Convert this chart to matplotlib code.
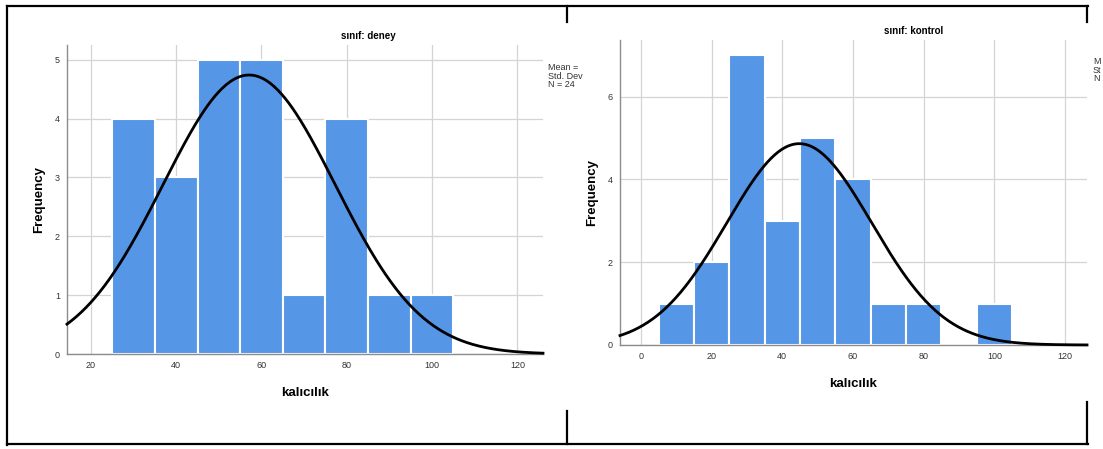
import numpy as np
import matplotlib.pyplot as plt
from matplotlib.lines import Line2D

plt.rcParams['font.family'] = ['Liberation Sans', 'DejaVu Sans']

# ─────────────────────────────
# Data (bin width 10)
# ─────────────────────────────
deney_bins = [25, 35, 45, 55, 65, 75, 85, 95]
deney_counts = [4, 3, 5, 5, 1, 4, 1, 1]
deney_mean = 57.1
deney_sd = 20.2

kontrol_bins = [5, 15, 25, 35, 45, 55, 65, 75, 85, 95]
kontrol_counts = [1, 2, 7, 3, 5, 4, 1, 1, 0, 1]
kontrol_mean = 44.8
kontrol_sd = 20.5

bin_width = 10
x_ticks = [0, 20, 40, 60, 80, 100, 120]

BAR = '#5596E6'
GRID = '#d4d4d4'
W, H = 1103, 449


def frac(x, y):
    return x / W, 1 - y / H


def histogram(ax, bins, counts, mean, sd, xlim, ylim, yticks):
    ax.bar(bins, counts, width=bin_width, align='edge', color=BAR,
           edgecolor='white', linewidth=1.5, zorder=2)
    n = sum(counts)
    xs = np.linspace(xlim[0], xlim[1], 400)
    ys = n * bin_width * np.exp(-0.5 * ((xs - mean) / sd) ** 2) / (sd * np.sqrt(2 * np.pi))
    ax.plot(xs, ys, color='black', linewidth=2.0, zorder=3, clip_on=False)
    ax.set_xlim(*xlim)
    ax.set_ylim(*ylim)
    ax.set_xticks([t for t in x_ticks if xlim[0] < t < xlim[1]])
    ax.set_yticks(yticks)
    ax.grid(True, color=GRID, linewidth=0.9, zorder=0)
    ax.set_axisbelow(True)
    for s in ['top', 'right']:
        ax.spines[s].set_visible(False)
    for s in ['left', 'bottom']:
        ax.spines[s].set_color('#8c8c8c')
        ax.spines[s].set_linewidth(1.0)
    ax.tick_params(length=0, labelsize=6.5, labelcolor='#333333', pad=5)
    ax.set_xlabel('kalıcılık', fontsize=9.5, fontweight='bold', labelpad=12)
    ax.set_ylabel('Frequency', fontsize=9.5, fontweight='bold', labelpad=7)


fig = plt.figure(figsize=(W / 100, H / 100), dpi=100)

# left panel
l, t = frac(67, 45)
r, b = frac(543, 354)
ax1 = fig.add_axes([l, b, r - l, t - b])
histogram(ax1, deney_bins, deney_counts, deney_mean, deney_sd,
          (14.4, 126), (0, 5.25), [0, 1, 2, 3, 4, 5])
fig.text(*frac(368, 36), 'sınıf: deney', ha='center', va='center',
         fontsize=7, fontweight='bold')
fig.text(*frac(548, 63), 'Mean =\nStd. Dev\nN = 24', ha='left', va='top',
         fontsize=6.5, linespacing=0.95, color='#333333')

# right panel
l, t = frac(620, 40)
r, b = frac(1087, 345)
ax2 = fig.add_axes([l, b, r - l, t - b])
histogram(ax2, kontrol_bins, kontrol_counts, kontrol_mean, kontrol_sd,
          (-5.9, 126.2), (0, 7.37), [0, 2, 4, 6])
fig.text(*frac(914, 31), 'sınıf: kontrol', ha='center', va='center',
         fontsize=7, fontweight='bold')
fig.text(*frac(1093, 57), 'M\nSt\nN', ha='left', va='top',
         fontsize=6.5, linespacing=0.95, color='#333333')

# ─────────────────────────────
# Frame lines around the two screenshots
# ─────────────────────────────
segments = [
    ((7, 6), (1088, 6)),
    ((7, 6), (7, 445)),
    ((7, 444), (1088, 444)),
    ((567, 6), (567, 22)),
    ((567, 411), (567, 444)),
    ((1087, 6), (1087, 22)),
    ((1087, 402), (1087, 444)),
]
for p0, p1 in segments:
    x0, y0 = frac(*p0)
    x1, y1 = frac(*p1)
    fig.add_artist(Line2D([x0, x1], [y0, y1], color='black',
                          linewidth=1.6, transform=fig.transFigure))

fig.savefig('out.png', dpi=100)
